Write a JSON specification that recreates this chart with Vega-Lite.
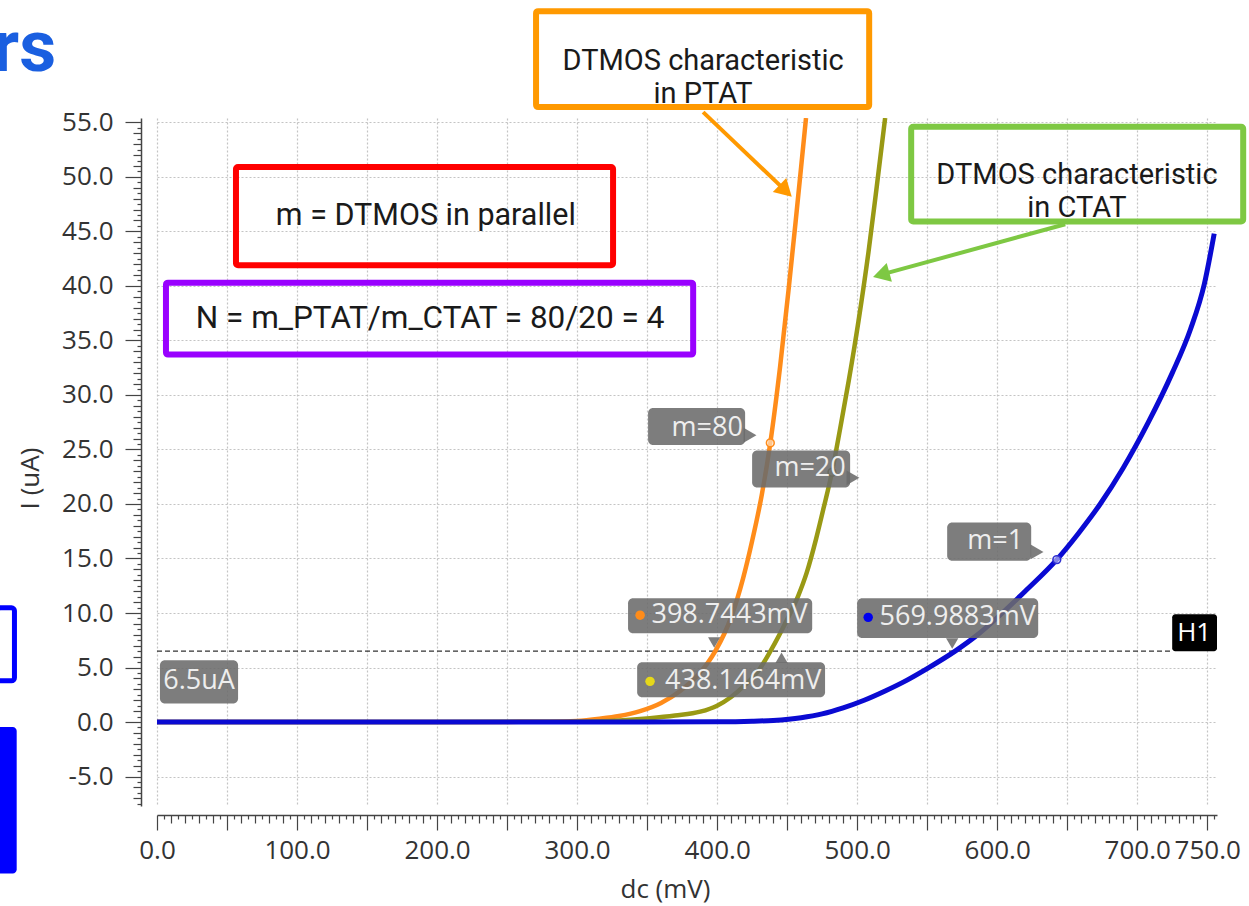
{
  "$schema": "https://vega.github.io/schema/vega-lite/v6.json",
  "width": 1060,
  "height": 688,
  "autosize": "none",
  "padding": {"left": 157, "top": 118, "right": 32, "bottom": 100},
  "background": "white",
  "config": {"view": {"stroke": null}},
  "datasets": {
    "orange": [
      {"x": 0, "y": 0}, {"x": 200, "y": 0}, {"x": 280, "y": 0.03}, {"x": 300, "y": 0.1}, {"x": 316, "y": 0.3},
      {"x": 330, "y": 0.55}, {"x": 345, "y": 1.0}, {"x": 360, "y": 1.75}, {"x": 373.6, "y": 2.85}, {"x": 387, "y": 4.4},
      {"x": 398.7, "y": 6.5}, {"x": 410, "y": 9.6}, {"x": 418.6, "y": 13.2}, {"x": 425, "y": 16.6}, {"x": 432, "y": 20.9},
      {"x": 438, "y": 25.6}, {"x": 445, "y": 32.6}, {"x": 451, "y": 39.6}, {"x": 456, "y": 45.8}, {"x": 460, "y": 50.9},
      {"x": 463.5, "y": 55.4}
    ],
    "olive": [
      {"x": 0, "y": 0}, {"x": 200, "y": 0}, {"x": 300, "y": 0.04}, {"x": 330, "y": 0.14}, {"x": 352, "y": 0.35},
      {"x": 370, "y": 0.6}, {"x": 388, "y": 0.95}, {"x": 400, "y": 1.5}, {"x": 410, "y": 2.3}, {"x": 420, "y": 3.4},
      {"x": 430, "y": 4.8}, {"x": 438.1, "y": 6.5}, {"x": 450, "y": 9.4}, {"x": 458, "y": 11.6}, {"x": 464, "y": 13.7},
      {"x": 470.7, "y": 16.8}, {"x": 476, "y": 19.6}, {"x": 482, "y": 22.9}, {"x": 488, "y": 27.0}, {"x": 494, "y": 31.3},
      {"x": 501, "y": 36.8}, {"x": 508, "y": 43.0}, {"x": 514, "y": 49.1}, {"x": 520, "y": 55.4}
    ],
    "blue": [
      {"x": 0, "y": 0}, {"x": 100, "y": 0}, {"x": 200, "y": 0}, {"x": 300, "y": 0}, {"x": 400, "y": 0.02},
      {"x": 425, "y": 0.07}, {"x": 440, "y": 0.15}, {"x": 460, "y": 0.4}, {"x": 475, "y": 0.75}, {"x": 490, "y": 1.3},
      {"x": 505, "y": 2.0}, {"x": 520, "y": 2.85}, {"x": 535, "y": 3.8}, {"x": 550, "y": 4.9}, {"x": 570, "y": 6.5},
      {"x": 586, "y": 8.0}, {"x": 602, "y": 9.8}, {"x": 620, "y": 12.0}, {"x": 642.6, "y": 14.9}, {"x": 658, "y": 17.3},
      {"x": 673.6, "y": 20.0}, {"x": 690, "y": 23.3}, {"x": 708, "y": 27.5}, {"x": 725, "y": 32.0}, {"x": 738, "y": 36.0},
      {"x": 748, "y": 40.2}, {"x": 755, "y": 44.8}
    ],
    "markers": [
      {"series": "m=80", "x": 438, "y": 25.6},
      {"series": "m=20", "x": 482, "y": 22.9},
      {"series": "m=1", "x": 642.6, "y": 14.9}
    ],
    "dots": [
      {"dot": "orange", "x": 345, "y": 9.8},
      {"dot": "yellow", "x": 352.1, "y": 3.73},
      {"dot": "blue", "x": 507.9, "y": 9.6}
    ],
    "frames": [
      {"name": "red", "x": 56.4, "x2": 325.7, "y": 50.9, "y2": 41.9},
      {"name": "purple", "x": 6.4, "x2": 382.9, "y": 40.3, "y2": 33.7},
      {"name": "orange", "x": 270.7, "x2": 508.6, "y": 65.2, "y2": 56.4},
      {"name": "green", "x": 538.6, "x2": 775.7, "y": 54.6, "y2": 45.9}
    ],
    "redText": [{"x": 192, "y": 46.4, "label": "m = DTMOS in parallel"}],
    "purpleText": [{"x": 195, "y": 37.0, "label": "N = m_PTAT/m_CTAT = 80/20 = 4"}],
    "boxText": [
      {"x": 390, "y": 60.66, "label": "DTMOS characteristic\nin PTAT"},
      {"x": 657, "y": 50.16, "label": "DTMOS characteristic\nin CTAT"}
    ],
    "callouts": [
      {"x": 350.7, "x2": 420, "y": 28.8, "y2": 25.4},
      {"x": 425, "x2": 495, "y": 24.9, "y2": 21.5},
      {"x": 564.3, "x2": 624.3, "y": 18.3, "y2": 14.8},
      {"x": 336.4, "x2": 467.9, "y": 11.35, "y2": 8.14},
      {"x": 342.9, "x2": 477.1, "y": 5.48, "y2": 2.27},
      {"x": 500, "x2": 629.3, "y": 11.35, "y2": 7.7},
      {"x": 2.1, "x2": 57.9, "y": 5.66, "y2": 1.71}
    ],
    "pointerDown": [{"x": 397.9, "y": 7.3}, {"x": 567.9, "y": 7.2}],
    "pointerUp": [{"x": 446, "y": 5.9}],
    "pointerRight": [{"x": 423.5, "y": 26.3}, {"x": 628.5, "y": 15.6}, {"x": 497, "y": 22.4}],
    "calloutText": [
      {"x": 392.9, "y": 27.0, "label": "m=80"},
      {"x": 466.4, "y": 23.3, "label": "m=20"},
      {"x": 598.6, "y": 16.6, "label": "m=1"},
      {"x": 408.9, "y": 9.8, "label": "398.7443mV"},
      {"x": 418.6, "y": 3.8, "label": "438.1464mV"},
      {"x": 571.8, "y": 9.6, "label": "569.9883mV"},
      {"x": 30, "y": 3.73, "label": "6.5uA"}
    ],
    "h1": [{"x": 0, "x2": 725, "y": 6.5}],
    "h1box": [{"x": 725, "x2": 757, "y": 9.88, "y2": 6.49}],
    "h1text": [{"x": 740.7, "y": 8.2, "label": "H1"}],
    "arrowOrange": [{"x": 390, "y": 55.94, "x2": 447.5, "y2": 48.9}],
    "arrowOrangeHead": [{"x": 447.5, "y": 48.9}],
    "arrowGreen": [{"x": 648.6, "y": 45.66, "x2": 519.1, "y2": 41.1}],
    "arrowGreenHead": [{"x": 519.1, "y": 41.1}],
    "heading": [{"x": -72, "y": 59.7, "label": "rs"}],
    "edgeOutline": [{"x": -114, "x2": -101.8, "y": 10.48, "y2": 3.78}],
    "edgeFill": [{"x": -120, "x2": -100.2, "y": -0.46, "y2": -13.9}]
  },
  "encoding": {
    "x": {
      "field": "x", "type": "quantitative",
      "scale": {"domain": [0, 757], "nice": false, "zero": false},
      "axis": {
        "orient": "bottom",
        "offset": 9,
        "title": "dc (mV)",
        "titleFont": "Open Sans", "titleFontSize": 26, "titleFontWeight": "normal", "titleColor": "#333",
        "titleX": 508, "titleY": 74, "titleBaseline": "middle", "titleAlign": "center",
        "values": [0,5,10,15,20,25,30,35,40,45,50,55,60,65,70,75,80,85,90,95,100,105,110,115,120,125,130,135,140,145,150,155,160,165,170,175,180,185,190,195,200,205,210,215,220,225,230,235,240,245,250,255,260,265,270,275,280,285,290,295,300,305,310,315,320,325,330,335,340,345,350,355,360,365,370,375,380,385,390,395,400,405,410,415,420,425,430,435,440,445,450,455,460,465,470,475,480,485,490,495,500,505,510,515,520,525,530,535,540,545,550,555,560,565,570,575,580,585,590,595,600,605,610,615,620,625,630,635,640,645,650,655,660,665,670,675,680,685,690,695,700,705,710,715,720,725,730,735,740,745,750,755],
        "labelExpr": "datum.value % 100 === 0 || datum.value === 750 ? format(datum.value, '.1f') : ''",
        "labelFont": "Open Sans", "labelFontSize": 26, "labelColor": "#333",
        "labelOverlap": false, "labelFlush": false, "labelBound": false,
        "labelPadding": 18,
        "domainColor": "#444", "domainWidth": 1.5,
        "tickColor": "#444", "tickWidth": 1.2,
        "tickSize": 4,
        "encoding": {"ticks": {"y2": {"condition": [{"test": "datum.value % 50 === 0", "value": 15}, {"test": "datum.value % 10 === 0", "value": 8}], "value": 4}}},
        "grid": true,
        "gridColor": "#c4c4c4", "gridDash": [2, 2], "gridWidth": 1.2,
        "gridOpacity": {"condition": {"test": "datum.value % 50 === 0", "value": 1}, "value": 0}
      }
    },
    "y": {
      "field": "y", "type": "quantitative",
      "scale": {"domain": [-7.7, 55.4], "nice": false, "zero": false},
      "axis": {
        "orient": "left",
        "offset": 16,
        "title": "I (uA)",
        "titleFont": "Open Sans", "titleFontSize": 26, "titleFontWeight": "normal", "titleColor": "#333",
        "titleX": -111, "titleY": 360, "titleAngle": -90, "titleBaseline": "middle", "titleAlign": "center",
        "values": [-7.5,-7,-6.5,-6,-5.5,-5,-4.5,-4,-3.5,-3,-2.5,-2,-1.5,-1,-0.5,0,0.5,1,1.5,2,2.5,3,3.5,4,4.5,5,5.5,6,6.5,7,7.5,8,8.5,9,9.5,10,10.5,11,11.5,12,12.5,13,13.5,14,14.5,15,15.5,16,16.5,17,17.5,18,18.5,19,19.5,20,20.5,21,21.5,22,22.5,23,23.5,24,24.5,25,25.5,26,26.5,27,27.5,28,28.5,29,29.5,30,30.5,31,31.5,32,32.5,33,33.5,34,34.5,35,35.5,36,36.5,37,37.5,38,38.5,39,39.5,40,40.5,41,41.5,42,42.5,43,43.5,44,44.5,45,45.5,46,46.5,47,47.5,48,48.5,49,49.5,50,50.5,51,51.5,52,52.5,53,53.5,54,54.5,55],
        "labelExpr": "datum.value % 5 === 0 ? replace(format(datum.value, '.1f'), '\u2212', '-') : ''",
        "labelFont": "Open Sans", "labelFontSize": 26, "labelColor": "#333",
        "labelOverlap": false, "labelFlush": false, "labelBound": false,
        "labelPadding": 24,
        "domainColor": "#444", "domainWidth": 1.5,
        "tickColor": "#444", "tickWidth": 1.2,
        "tickSize": 4,
        "encoding": {"ticks": {"x2": {"condition": [{"test": "datum.value % 5 === 0", "value": -16}, {"test": "datum.value % 1 === 0", "value": -8}], "value": -4}}},
        "grid": true,
        "gridColor": "#c4c4c4", "gridDash": [2, 2], "gridWidth": 1.2,
        "gridOpacity": {"condition": {"test": "datum.value % 5 === 0", "value": 1}, "value": 0}
      }
    }
  },
  "layer": [
    {
      "data": {"name": "frames"},
      "mark": {"type": "rect", "fillOpacity": 0, "strokeWidth": 6, "cornerRadius": 2},
      "encoding": {
        "x2": {"field": "x2"}, "y2": {"field": "y2"},
        "stroke": {"field": "name", "type": "nominal", "legend": null,
          "scale": {"domain": ["red", "purple", "orange", "green"], "range": ["#ff0000", "#9900ff", "#ff9900", "#7ec843"]}}
      }
    },
    {
      "data": {"name": "redText"},
      "mark": {"type": "text", "font": "Roboto", "fontSize": 30.5, "color": "#1a1a1a", "align": "center", "baseline": "middle"},
      "encoding": {"text": {"field": "label"}}
    },
    {
      "data": {"name": "purpleText"},
      "mark": {"type": "text", "font": "Roboto", "fontSize": 31.5, "color": "#1a1a1a", "align": "center", "baseline": "middle"},
      "encoding": {"text": {"field": "label"}}
    },
    {
      "data": {"name": "boxText"},
      "mark": {"type": "text", "font": "Roboto", "fontSize": 29, "color": "#1a1a1a", "align": "center", "baseline": "middle", "lineBreak": "\n", "lineHeight": 33},
      "encoding": {"text": {"field": "label"}}
    },
    {
      "data": {"name": "h1"},
      "mark": {"type": "rule", "color": "#333", "strokeWidth": 1.3, "strokeDash": [5, 3]},
      "encoding": {"x2": {"field": "x2"}}
    },
    {
      "data": {"name": "orange"},
      "mark": {"type": "line", "color": "#ff8c1a", "strokeWidth": 4.5, "interpolate": "monotone", "clip": true},
      "encoding": {}
    },
    {
      "data": {"name": "olive"},
      "mark": {"type": "line", "color": "#999914", "strokeWidth": 4.5, "interpolate": "monotone", "clip": true},
      "encoding": {}
    },
    {
      "data": {"name": "blue"},
      "mark": {"type": "line", "color": "#0a0ad2", "strokeWidth": 5, "interpolate": "monotone", "clip": true},
      "encoding": {}
    },
    {
      "data": {"name": "markers"},
      "mark": {"type": "point", "filled": false, "size": 60, "strokeWidth": 1.6, "fill": "#ffffff", "fillOpacity": 0.5},
      "encoding": {
        "color": {"field": "series", "type": "nominal", "legend": null,
          "scale": {"domain": ["m=80", "m=20", "m=1"], "range": ["#ff8c1a", "#6f6f10", "#3030d0"]}}
      }
    },
    {
      "data": {"name": "callouts"},
      "mark": {"type": "rect", "fill": "#6b6b6b", "opacity": 0.88, "cornerRadius": 5},
      "encoding": {"x2": {"field": "x2"}, "y2": {"field": "y2"}}
    },
    {
      "data": {"name": "pointerDown"},
      "mark": {"type": "point", "shape": "triangle-down", "filled": true, "color": "#6b6b6b", "opacity": 0.88, "size": 150},
      "encoding": {}
    },
    {
      "data": {"name": "pointerUp"},
      "mark": {"type": "point", "shape": "triangle-up", "filled": true, "color": "#6b6b6b", "opacity": 0.88, "size": 150},
      "encoding": {}
    },
    {
      "data": {"name": "pointerRight"},
      "mark": {"type": "point", "shape": "triangle-right", "filled": true, "color": "#6b6b6b", "opacity": 0.88, "size": 220},
      "encoding": {}
    },
    {
      "data": {"name": "calloutText"},
      "mark": {"type": "text", "font": "Open Sans", "fontSize": 27, "color": "#eeeeee", "align": "center", "baseline": "middle"},
      "encoding": {"text": {"field": "label"}}
    },
    {
      "data": {"name": "dots"},
      "mark": {"type": "circle", "size": 90, "opacity": 1},
      "encoding": {
        "fill": {"field": "dot", "type": "nominal", "legend": null,
          "scale": {"domain": ["orange", "yellow", "blue"], "range": ["#ff8c1a", "#e6d81a", "#0000f0"]}}
      }
    },
    {
      "data": {"name": "h1box"},
      "mark": {"type": "rect", "fill": "#000000", "cornerRadius": 3},
      "encoding": {"x2": {"field": "x2"}, "y2": {"field": "y2"}}
    },
    {
      "data": {"name": "h1text"},
      "mark": {"type": "text", "font": "Open Sans", "fontSize": 26, "color": "#ffffff", "align": "center", "baseline": "middle"},
      "encoding": {"text": {"field": "label"}}
    },
    {
      "data": {"name": "arrowOrange"},
      "mark": {"type": "rule", "color": "#ff9900", "strokeWidth": 4},
      "encoding": {"x2": {"field": "x2"}, "y2": {"field": "y2"}}
    },
    {
      "data": {"name": "arrowOrangeHead"},
      "mark": {"type": "point", "shape": "triangle", "filled": true, "color": "#ff9900", "size": 380, "angle": 133.7, "opacity": 1},
      "encoding": {}
    },
    {
      "data": {"name": "arrowGreen"},
      "mark": {"type": "rule", "color": "#7ec843", "strokeWidth": 4},
      "encoding": {"x2": {"field": "x2"}, "y2": {"field": "y2"}}
    },
    {
      "data": {"name": "arrowGreenHead"},
      "mark": {"type": "point", "shape": "triangle", "filled": true, "color": "#7ec843", "size": 380, "angle": 254.4, "opacity": 1},
      "encoding": {}
    },
    {
      "data": {"name": "heading"},
      "mark": {"type": "text", "font": "Roboto", "fontWeight": "bold", "fontSize": 72, "color": "#1a5fe0", "align": "right", "baseline": "alphabetic"},
      "encoding": {"text": {"field": "label"}}
    },
    {
      "data": {"name": "edgeOutline"},
      "mark": {"type": "rect", "fillOpacity": 0, "stroke": "#0000ff", "strokeWidth": 5, "cornerRadius": 3},
      "encoding": {"x2": {"field": "x2"}, "y2": {"field": "y2"}}
    },
    {
      "data": {"name": "edgeFill"},
      "mark": {"type": "rect", "fill": "#0000ff", "cornerRadius": 4},
      "encoding": {"x2": {"field": "x2"}, "y2": {"field": "y2"}}
    }
  ]
}
